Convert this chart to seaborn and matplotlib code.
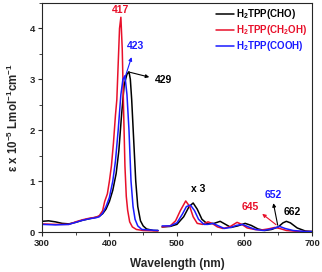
import pandas as pd
import matplotlib.pyplot as plt
import seaborn as sns

# Soret region (300-472 nm)
uv_cho_x = [300, 310, 320, 330, 340, 350, 360, 370, 380, 385, 390, 395, 400, 405, 410, 414, 418, 422, 426, 429,
            431, 433, 436, 439, 442, 446, 450, 455, 465, 472]
uv_cho_y = [0.21, 0.22, 0.2, 0.17, 0.16, 0.19, 0.23, 0.26, 0.29, 0.31, 0.36, 0.45, 0.6, 0.82, 1.15, 1.6, 2.3, 2.9, 3.1, 3.15,
            3.0, 2.6, 1.8, 1.0, 0.5, 0.22, 0.12, 0.06, 0.03, 0.03]
uv_oh_x = [300, 320, 340, 350, 360, 370, 380, 385, 390, 393, 397, 400, 403, 406, 409, 411, 413, 415, 417,
           419, 421, 423, 425, 427, 430, 434, 440, 450, 472]
uv_oh_y = [0.16, 0.15, 0.15, 0.2, 0.24, 0.27, 0.29, 0.32, 0.42, 0.6, 0.75, 1.0, 1.3, 1.75, 2.3, 2.6, 3.3, 4.0, 4.22,
           3.6, 2.4, 1.3, 0.7, 0.43, 0.2, 0.1, 0.05, 0.03, 0.02]
uv_cooh_x = [300, 320, 340, 350, 360, 370, 380, 385, 390, 395, 400, 405, 409, 413, 417, 420, 423,
             426, 429, 432, 435, 438, 442, 448, 472]
uv_cooh_y = [0.15, 0.14, 0.15, 0.19, 0.23, 0.26, 0.28, 0.3, 0.37, 0.5, 0.68, 1.0, 1.4, 2.0, 2.7, 3.0, 3.07,
             2.7, 2.0, 1.0, 0.5, 0.25, 0.12, 0.05, 0.03]

# Q bands (x 3)
q_cho_x = [478, 490, 500, 510, 518, 524, 530, 537, 545, 555, 564, 572, 580, 590, 601, 610, 620, 630, 640, 650,
           657, 662, 668, 678, 690, 700]
q_cho_y = [0.1, 0.11, 0.15, 0.3, 0.5, 0.57, 0.45, 0.25, 0.16, 0.17, 0.21, 0.15, 0.09, 0.12, 0.17, 0.13, 0.06, 0.03, 0.05, 0.1,
           0.18, 0.21, 0.18, 0.08, 0.02, 0.01]
q_oh_x = [478, 490, 498, 505, 513, 519, 524, 530, 538, 546, 552, 560, 568, 578, 589, 596, 604, 615, 625, 635,
          645, 652, 662, 680, 700]
q_oh_y = [0.1, 0.12, 0.22, 0.42, 0.61, 0.5, 0.3, 0.17, 0.15, 0.2, 0.17, 0.1, 0.07, 0.1, 0.19, 0.15, 0.08, 0.05, 0.04, 0.06,
          0.09, 0.07, 0.03, 0.01, 0.01]
q_cooh_x = [478, 490, 500, 508, 514, 520, 526, 532, 540, 546, 553, 560, 570, 580, 588, 597, 606, 616, 628, 640,
            652, 660, 672, 690, 700]
q_cooh_y = [0.12, 0.12, 0.18, 0.35, 0.5, 0.53, 0.42, 0.25, 0.15, 0.15, 0.17, 0.13, 0.07, 0.09, 0.13, 0.15, 0.1, 0.05, 0.03, 0.06,
            0.11, 0.07, 0.03, 0.01, 0.01]

labels = ["H$_2$TPP(CHO)", "H$_2$TPP(CH$_2$OH)", "H$_2$TPP(COOH)"]
colors = ["#000000", "#e8102a", "#1a1aff"]

sns.set_style("ticks")
plt.rcParams['font.family'] = ['Liberation Sans', 'DejaVu Sans']
plt.rcParams['mathtext.fontset'] = 'custom'
plt.rcParams['mathtext.rm'] = 'Liberation Sans:bold'
plt.rcParams['mathtext.it'] = 'Liberation Sans:bold'
plt.rcParams['mathtext.bf'] = 'Liberation Sans:bold'

fig = plt.figure(figsize=(3.22, 2.72), dpi=100)
ax = fig.add_axes([0.130, 0.147, 0.839, 0.842])

uv = [(uv_cho_x, uv_cho_y), (uv_oh_x, uv_oh_y), (uv_cooh_x, uv_cooh_y)]
q = [(q_cho_x, q_cho_y), (q_oh_x, q_oh_y), (q_cooh_x, q_cooh_y)]
for i in range(3):
    sns.lineplot(x=uv[i][0], y=uv[i][1], color=colors[i], lw=1.1, ax=ax, label=labels[i])
    sns.lineplot(x=q[i][0], y=q[i][1], color=colors[i], lw=1.1, ax=ax)

ax.set_xlim(300, 700)
ax.set_ylim(0, 4.5)
ax.set_xticks([300, 400, 500, 600, 700])
ax.set_xticks([350, 450, 550, 650], minor=True)
ax.set_yticks([0, 1, 2, 3, 4])
ax.set_yticks([0.5, 1.5, 2.5, 3.5, 4.5], minor=True)
ax.tick_params(which='major', length=3, width=0.8, labelsize=6.8, pad=2)
ax.tick_params(which='minor', length=2, width=0.6)
for lab in ax.get_xticklabels() + ax.get_yticklabels():
    lab.set_fontweight('bold')
for s in ax.spines.values():
    s.set_linewidth(0.8)

ax.set_xlabel("Wavelength (nm)", fontsize=8.5, fontweight='bold', labelpad=7)
ax.set_ylabel("ε x 10$^{-5}$ Lmol$^{-1}$cm$^{-1}$", fontsize=8.3, fontweight='bold', labelpad=6)

leg = ax.legend(loc='upper right', frameon=False, fontsize=7, handlelength=1.8, handletextpad=0.25,
                labelspacing=0.2, borderaxespad=0.05)
for t, c in zip(leg.get_texts(), colors):
    t.set_color(c)
    t.set_fontweight('bold')

akw = dict(fontsize=7.5, fontweight='bold', ha='center', va='center')
ax.text(417, 4.36, "417", color=colors[1], **akw)
ax.annotate("423", xy=(421, 2.95), xytext=(438, 3.65), color=colors[2],
            arrowprops=dict(arrowstyle='<|-', color=colors[2], lw=0.8, mutation_scale=5), **akw)
ax.annotate("", xy=(463, 3.03), xytext=(427, 3.15),
            arrowprops=dict(arrowstyle='-|>', color='black', lw=0.8, mutation_scale=5))
ax.text(480, 2.99, "429", color='black', **akw)
ax.text(531, 0.84, "x 3", color='black', **akw)
ax.annotate("", xy=(623, 0.39), xytext=(650, 0.11),
            arrowprops=dict(arrowstyle='-|>', color=colors[1], lw=0.8, mutation_scale=5))
ax.text(609, 0.49, "645", color=colors[1], **akw)
ax.annotate("", xy=(642, 0.62), xytext=(650, 0.08),
            arrowprops=dict(arrowstyle='-|>', color='black', lw=0.8, mutation_scale=5))
ax.text(642, 0.72, "652", color=colors[2], **akw)
ax.text(670, 0.39, "662", color='black', **akw)

fig.savefig("out.png", dpi=100)
